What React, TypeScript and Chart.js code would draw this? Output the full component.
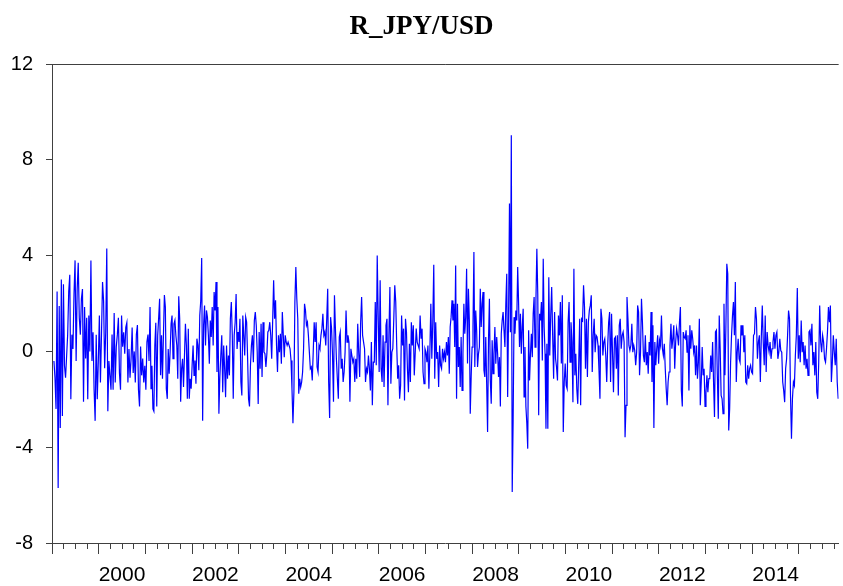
import React, { useEffect, useRef } from "react";
import { Chart, registerables } from "chart.js";

Chart.register(...registerables);

const TITLE = "R_JPY/USD";
const yTickValues = [-8, -4, 0, 4, 8, 12];
const yearLabels = [2000, 2002, 2004, 2006, 2008, 2010, 2012, 2014];
const axisStartYear = 1999;
const axisEndYear = 2015.85;

// weekly returns, grouped by time span
const r1999_2001 = [-0.4, -1.1, -2.4, 2.5, -5.7, 1.9, -3.2, 3.0, -2.7, 2.8, -0.6, -1.1, -0.2, 0.7, 2.5, 3.2, -2.0, 0.7, 0.1, 2.4, 3.8, -0.4, 2.6, 3.7, 1.4, 0.7, 2.2, 2.6, -2.1, 1.85, -0.3, 1.4, -2.0, 1.5, 0.0, 3.8, -0.4, 0.8, -1.6, -2.9, 0.7, -2.0, -0.4, 1.5, -1.3, 0.7, 2.9, 2.1, -0.7, 0.8, 4.3, -2.5, -0.4, -1.0, -1.6, 0.7, -1.6, 1.6, -1.3, 0.2, 0.7, 1.4, -0.9, -1.6, 1.5, 0.2, 0.8, -0.1, 1.0, 1.2, -1.3, 0.1, -1.1, -0.3, 1.0, -0.9, 0.0, -1.3, 0.7, 1.1, -1.6, -2.3, 0.2, -1.0, -0.3, -1.3, -0.6, -1.6, 0.4, 0.7, -0.4];
const r2001_2003 = [1.85, -1.56, -0.6, -2.4, -2.5, 0.25, 1.2, -2.3, 0.67, 1.4, 2.2, -1.0, 0.67, -1.14, 0.67, 2.35, 1.85, -1.56, -1.98, 0.1, -0.93, 0.0, 1.15, 1.5, -0.3, 1.15, 1.3, 0.67, 0.25, -1.14, 2.3, 1.36, -2.1, -0.72, -0.31, -1.49, -0.17, 1.15, 0.25, -1.98, 0.95, -1.98, -1.14, -1.56, -0.58, 0.25, -1.0, -0.38, -1.35, 0.53, 0.25, -0.79, 1.5, 2.1, 3.9, -2.9, 1.09, 1.92, 0.25, 1.71, 1.43, 0.67, -0.51, 1.29, 0.6, 1.85, 0.25, 2.48, 1.71, 2.9, -0.86, 1.85, -2.6, -1.07, -0.17, 0.67, -1.7, 0.25, -0.72, -1.91, 0.25, -1.14, -0.17, -1.0, 1.36, 2.06, 0.67, -1.98, 0.67, 1.22, 2.4, 0.1, 0.81, 0.39, 1.36, -1.28, -1.84, 1.5, 0.67, -0.17, 1.43, 1.22, -0.24, -1.98];
const r2003_2005 = [-2.3, -0.58, 0.25, 0.67, -0.45, 1.29, 1.64, 1.09, -0.03, -2.2, 0.81, -0.72, 1.15, -1.07, 1.22, -0.03, -0.1, -0.65, -0.1, 0.81, 0.88, 1.22, 0.67, -0.31, 1.29, 2.97, 1.36, 2.13, 0.25, -0.86, 0.67, -0.03, 0.74, -0.51, 1.64, 0.67, -0.24, 0.67, 0.39, 0.25, 0.39, 0.25, 0.11, -0.38, -1.56, -3.0, -1.7, 2.06, 3.52, 2.2, 1.36, -1.77, -1.14, -1.49, -1.28, -0.86, 0.11, 1.99, 1.71, 1.09, 1.22, 0.67, -0.03, -0.72, -0.65, -1.21, -0.03, 1.22, 0.39, 1.22, -0.65, -0.86, 0.25, 0.11, 0.67, 0.95, 1.57, 0.67, 0.81, 0.25, 1.36, 2.62, -1.28, -2.78, 1.43, 0.95, -0.17, -2.1, 2.34, 0.95, -0.31, -1.14, -1.98, 0.6, 0.81, -0.72, -0.31, -1.28, -0.86, -0.03, 1.71, 0.39, 0.67];
const r2005_2007 = [0.39, -2.1, 0.11, -0.17, -0.45, -0.31, -1.28, -0.31, -1.14, 1.15, -0.03, -1.07, 1.22, 2.27, 0.67, 0.39, 0.11, -1.28, -0.72, -0.86, -0.17, -0.72, -1.63, 0.39, -2.25, -0.45, -0.45, 2.06, -0.58, 4.0, 1.5, -0.86, 2.97, -0.72, -1.28, 0.67, -1.49, 0.39, 1.09, 1.36, -2.25, 0.67, 2.69, -1.35, -0.03, 0.11, 1.36, 2.76, 2.06, 0.25, -1.14, -0.58, -1.98, -1.42, 1.5, 0.25, 0.95, -2.05, 1.36, 0.81, -0.72, -1.7, 0.32, -1.28, 1.22, 0.25, 1.09, -1.0, -0.03, 0.95, 0.39, 0.25, 0.11, 1.5, 0.53, 0.95, -0.86, -1.35, 0.11, -0.03, -0.45, 0.25, -1.56, -0.03, 1.99, -0.31, 1.22, 3.62, -1.14, 1.22, -0.31, -0.03, -1.49, 0.25, -0.58, -0.72, 0.11, -0.31, -0.03, -0.45, 0.39, -0.17];
const r2007_2009 = [0.6, -0.93, 1.02, 1.43, 2.13, 1.29, 1.99, 0.18, 3.59, -1.98, 1.99, -0.65, 0.18, -1.49, 0.6, -1.63, -0.1, 1.99, 0.74, 1.43, 3.45, -0.51, 2.62, 1.29, -2.6, -1.07, 0.18, 1.02, 4.15, -0.65, 1.71, 0.88, -0.65, -0.1, 0.18, 2.62, 1.02, 1.99, 2.48, -0.79, -1.07, 0.6, -1.35, -3.37, 0.46, 2.2, -1.21, -2.19, 0.46, -0.93, -0.1, 1.02, -0.51, 0.6, -0.1, -1.07, -0.24, -2.3, 0.74, 1.29, 1.64, 0.88, 0.18, 1.99, 3.24, -1.9, 1.5, 6.17, 0.8, 9.02, -5.87, -2.88, 1.43, 0.74, 1.71, 1.29, 3.52, 1.99, 0.18, 1.57, -0.1, 1.02, 1.78, -1.9, 0.18, -2.3, -3.0, -4.06, 0.88, -1.21, -0.1, 0.74, -0.24, 1.57, 2.27, 0.18, 2.13, 4.29, 2.41, -2.67, 1.57, 1.29, 2.06, -0.38, 3.87, 1.02, -0.1, -3.23, 0.32];
const r2009_2011 = [-3.23, 3.1, -0.17, 1.5, 2.69, 0.67, -1.14, 1.64, -0.31, -0.65, -1.21, 1.5, 0.67, 2.06, -0.51, 2.34, -3.37, -1.28, -0.51, -1.42, -1.56, 1.22, 2.06, -0.45, 1.22, 0.39, -2.12, 3.45, -1.0, -0.1, -1.56, -2.19, -0.51, 1.36, -2.25, 1.36, 1.29, 2.76, 1.85, -0.72, 1.36, -1.07, 1.22, 1.71, 1.92, 2.34, -0.86, 0.67, 1.36, -0.03, 0.67, 0.6, 0.25, -0.79, -1.98, 1.78, 1.36, -0.17, 0.39, 0.53, -0.17, -1.28, 0.25, 1.22, 1.64, -1.28, 1.57, -0.03, -1.7, 0.53, 0.6, -0.72, 0.67, -1.84, 1.09, 1.36, 0.11, 0.67, 0.81, 0.39, -3.58, -2.25, 2.27, 1.36, 0.25, 0.04, 0.25, 1.15, -0.03, 0.25, 0.04, -0.58, -0.03, 1.92, 1.64, -1.0, -0.03, 2.2, 1.22, -0.17, -0.45, 0.67, -0.58];
const r2011_2013 = [-0.03, -0.93, 0.39, -0.17, 1.64, -1.28, 1.09, -3.2, 0.39, -0.58, 0.11, 0.67, -0.51, 0.46, 0.25, 1.5, 0.11, -0.17, 0.32, -0.72, -1.56, -2.25, -1.28, -0.86, 0.25, 1.15, 0.11, 0.53, 1.09, -0.72, 0.39, 0.95, 0.67, 0.25, 1.22, 1.85, -1.63, -2.3, 0.81, 0.6, 0.53, 0.88, -0.03, 0.67, -1.63, 1.09, 0.11, 0.88, 0.53, -0.03, 0.25, -1.0, 0.25, -1.14, -0.45, 1.36, -2.25, -1.28, 0.18, -1.0, -0.72, -2.3, -1.7, -1.0, -1.7, -1.14, -1.14, -0.17, -0.86, 0.39, -1.28, -2.74, 0.81, 0.88, -1.0, -2.81, 1.5, 0.11, -1.84, -1.98, -2.6, 1.99, -1.0, 0.95, 3.66, 3.24, -3.3, -2.39, -0.45, 0.67, 1.5, 2.06, 0.67, 2.9, -1.28, -0.03, 0.53, -0.31, -0.45, 1.09, 0.67, 1.09, -0.03, 0.67, -1.28];
const r2013_2015 = [-1.35, -0.58, -1.14, -0.72, -0.58, -0.86, -0.93, 0.67, 0.74, 1.85, 1.36, -0.31, 0.39, 0.67, -1.28, 0.6, 1.92, 0.39, -0.58, 1.5, -0.86, 0.81, 0.25, -0.03, 0.39, -0.31, 0.11, 0.39, 0.81, 0.11, 0.67, 0.81, -0.31, -0.03, 0.53, 0.04, -0.03, -1.28, -1.63, -2.12, -0.72, -0.31, 0.67, 1.71, 1.36, -1.84, -3.65, -1.98, -1.28, -1.42, -0.17, 0.67, 2.65, -0.31, 0.67, -0.45, 1.29, -0.03, 0.39, -0.58, 0.25, -0.72, -0.31, -1.0, 0.81, 0.88, 0.25, 1.15, -0.58, -0.03, -1.0, 0.39, -1.7, -1.98, -0.45, 1.92, 0.39, -0.03, 0.67, 0.39, -0.31, -0.45, 0.11, 0.81, 1.85, 1.22, 1.92, -1.28, -0.45, 0.67, -0.03, -0.58, 0.53, -1.28, -1.98];

const segmentValues = [r1999_2001, r2001_2003, r2003_2005, r2005_2007, r2007_2009, r2009_2011, r2011_2013, r2013_2015];
const segmentStart = [1999.03, 2001.09, 2003.22, 2005.35, 2007.48, 2009.61, 2011.74, 2013.87];
const segmentEnd = [2001.09, 2003.22, 2005.35, 2007.48, 2009.61, 2011.74, 2013.87, 2015.85];

function buildPoints() {
  const pts: { x: number; y: number }[] = [];
  segmentValues.forEach((vals, s) => {
    const step = (segmentEnd[s] - segmentStart[s]) / vals.length;
    vals.forEach((v, i) => pts.push({ x: segmentStart[s] + (i + 0.5) * step, y: v }));
  });
  return pts;
}

function quarterTicks() {
  const t: { value: number }[] = [];
  for (let q = axisStartYear * 4; q / 4 <= axisEndYear; q++) t.push({ value: q / 4 });
  return t;
}

const AXIS = "#404040";
const SANS = "'Liberation Sans', Arial, sans-serif";

export default function App() {
  const ref = useRef<HTMLCanvasElement>(null);
  useEffect(() => {
    const chart = new Chart(ref.current!, {
      type: "line",
      data: {
        datasets: [
          {
            data: buildPoints(),
            borderColor: "#0000ff",
            borderWidth: 1.2,
            pointRadius: 0,
            tension: 0,
            fill: false,
          },
        ],
      },
      options: {
        animation: false,
        responsive: false,
        devicePixelRatio: 1,
        layout: { padding: 0 },
        plugins: {
          legend: { display: false },
          tooltip: { enabled: false },
          title: {
            display: true,
            text: TITLE,
            color: "#000",
            font: { family: "'Liberation Serif', 'Times New Roman', serif", size: 27, weight: "bold" },
            padding: { top: 11, bottom: 20.6 },
          },
        },
        scales: {
          x: {
            type: "linear",
            min: axisStartYear,
            max: axisEndYear,
            afterBuildTicks: (scale: any) => {
              scale.ticks = quarterTicks();
            },
            afterFit: (scale: any) => {
              scale.height = 43;
            },
            ticks: {
              autoSkip: false,
              maxRotation: 0,
              minRotation: 0,
              padding: 9,
              color: "#000",
              font: { family: SANS, size: 21 },
              callback: (v: any) => {
                const val = Number(v);
                const yr = Math.floor(val);
                if (Math.abs(val - yr - 0.5) < 1e-6 && yearLabels.includes(yr)) return String(yr);
                return "";
              },
            },
            grid: {
              drawOnChartArea: false,
              tickLength: 11,
              tickColor: AXIS,
              tickBorderDash: (ctx: any) => {
                const v = ctx.tick ? ctx.tick.value : 0;
                return Math.abs(v - Math.round(v)) < 1e-6 ? [] : [5, 40];
              },
            },
            border: { color: AXIS, width: 1 },
          },
          y: {
            min: -8,
            max: 12,
            afterBuildTicks: (scale: any) => {
              scale.ticks = yTickValues.map((v) => ({ value: v }));
            },
            afterFit: (scale: any) => {
              scale.width = 52;
            },
            ticks: {
              padding: 13,
              color: "#000",
              font: { family: SANS, size: 20 },
            },
            grid: {
              color: (ctx: any) => (ctx.tick && ctx.tick.value === 12 ? AXIS : "rgba(0,0,0,0)"),
              tickColor: AXIS,
              tickLength: 6,
            },
            border: { color: AXIS, width: 1 },
          },
        },
      },
    } as any);
    return () => chart.destroy();
  }, []);
  return (
    <div style={{ position: "fixed", left: 0, top: 0, width: 843, height: 586, overflow: "hidden", background: "#fff" }}>
      <canvas ref={ref} width={843} height={586} style={{ display: "block" }} />
    </div>
  );
}
